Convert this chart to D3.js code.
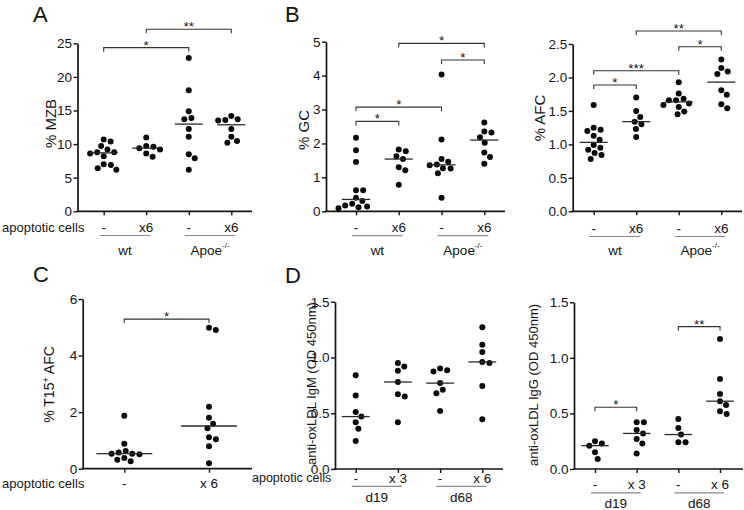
<!DOCTYPE html>
<html><head><meta charset="utf-8">
<script src="https://cdn.jsdelivr.net/npm/d3@7"></script>
<style>
html,body{margin:0;padding:0;background:#fff;}
text{font-family:"Liberation Sans",Arial,Helvetica,sans-serif;fill:#141414;}
</style></head>
<body>
<svg id="fig" width="744" height="510"></svg>
<script>
// ---------- DATA ----------
// Panel A: % MZB
const mzbWtCtrl   = [10.7, 10.4, 9.7, 9.2, 8.8, 8.8, 8.6, 8.2, 7.0, 6.9, 6.4, 6.2];
const mzbWtApo    = [11.0, 9.7, 9.6, 9.4, 9.2, 8.6, 8.1];
const mzbApoeCtrl = [22.8, 18.0, 14.9, 13.9, 13.7, 12.25, 11.1, 8.5, 7.9, 6.2];
const mzbApoeApo  = [14.2, 13.7, 13.6, 13.5, 12.25, 11.1, 10.45, 10.2];
// Panel B: % GC
const gcWtCtrl   = [2.17, 1.80, 1.45, 0.62, 0.62, 0.40, 0.30, 0.22, 0.17, 0.14, 0.12, 0.09];
const gcWtApo    = [1.82, 1.77, 1.62, 1.54, 1.30, 1.21, 0.78];
const gcApoeCtrl = [4.03, 2.12, 1.54, 1.46, 1.38, 1.36, 1.27, 1.26, 1.12, 0.40];
const gcApoeApo  = [2.62, 2.35, 2.32, 2.18, 2.02, 1.73, 1.60, 1.40];
// Panel B (right): % AFC
const afcWtCtrl   = [1.59, 1.25, 1.22, 1.20, 1.13, 1.07, 0.99, 0.95, 0.92, 0.87, 0.84, 0.78];
const afcWtApo    = [1.70, 1.50, 1.41, 1.34, 1.30, 1.23, 1.11];
const afcApoeCtrl = [1.93, 1.76, 1.68, 1.66, 1.66, 1.61, 1.59, 1.56, 1.49, 1.45];
const afcApoeApo  = [2.27, 2.14, 2.09, 2.05, 1.81, 1.74, 1.60, 1.54];
// Panel C: % T15+ AFC
const t15Ctrl = [1.87, 0.88, 0.63, 0.57, 0.53, 0.53, 0.51, 0.38, 0.32, 0.26];
const t15Apo  = [4.98, 4.90, 2.19, 1.80, 1.59, 1.43, 1.11, 1.04, 0.79, 0.19];
// Panel D: anti-oxLDL IgM
const igmD19Ctrl = [0.84, 0.66, 0.51, 0.47, 0.42, 0.36, 0.25];
const igmD19Apo  = [0.95, 0.92, 0.88, 0.78, 0.67, 0.65, 0.42];
const igmD68Ctrl = [0.90, 0.885, 0.875, 0.77, 0.71, 0.68, 0.52];
const igmD68Apo  = [1.27, 1.115, 1.05, 0.96, 0.95, 0.745, 0.445];
// Panel D: anti-oxLDL IgG
const iggD19Ctrl = [0.25, 0.23, 0.21, 0.15, 0.09];
const iggD19Apo  = [0.42, 0.42, 0.35, 0.32, 0.27, 0.23, 0.14];
const iggD68Ctrl = [0.45, 0.37, 0.31, 0.24, 0.24];
const iggD68Apo  = [1.17, 0.81, 0.675, 0.61, 0.575, 0.52, 0.495];

// tick labels
const ticksMZB = [0, 5, 10, 15, 20, 25];
const ticksGC  = [0, 1, 2, 3, 4, 5];
const ticksAFC = [0, 0.5, 1.0, 1.5, 2.0, 2.5];
const ticksT15 = [0, 2, 4, 6];
const ticksOD  = [0, 0.5, 1.0, 1.5];

// category labels
const treat4    = ["-", "x6", "-", "x6"];
const treatC    = ["-", "x 6"];
const treatD    = ["-", "x 3", "-", "x 6"];
const strainsAB = ["wt", "Apoe"];
const daysD     = ["d19", "d68"];

// significance: [from, to, label, bracket height in data units]
const sigMZB = [[0, 2, "*", 24.35], [1, 3, "**", 27.08]];
const sigGC  = [[0, 1, "*", 2.65], [0, 2, "*", 3.07], [2, 3, "*", 4.46], [1, 3, "*", 4.95]];
const sigAFC = [[0, 1, "*", 1.887], [0, 2, "***", 2.10], [2, 3, "*", 2.46], [1, 3, "**", 2.694]];
const sigT15 = [[0, 1, "*", 5.29]];
const sigIgG = [[0, 1, "*", 0.555], [2, 3, "**", 1.281]];

// ---------- LAYOUT ----------
const panels = [
  {groups:[mzbWtCtrl, mzbWtApo, mzbApoeCtrl, mzbApoeApo], ticks:ticksMZB, fmt:d3.format("d"), sig:sigMZB,
   ax:77.5, c0:103.7, c1:231.3, xEnd:252, yBot:211.3, yTop:43.3, ylabel:[["% MZB"]], ylfs:15, ylx:55.5, yly:123.5,
   treat:treat4, treatY:227, apopX:2, apopFs:13, under:strainsAB, lineY:235.5, underY:250, letter:"A", lx:33, ly:22},
  {groups:[gcWtCtrl, gcWtApo, gcApoeCtrl, gcApoeApo], ticks:ticksGC, fmt:d3.format("d"), sig:sigGC,
   ax:326, c0:356, c1:484.3, xEnd:505, yBot:211.3, yTop:41.7, ylabel:[["% GC"]], ylfs:15, ylx:308.5, yly:130,
   treat:treat4, treatY:227.5, apopX:null, under:strainsAB, lineY:235.7, underY:250, letter:"B", lx:285, ly:22},
  {groups:[afcWtCtrl, afcWtApo, afcApoeCtrl, afcApoeApo], ticks:ticksAFC, fmt:d3.format(".1f"), sig:sigAFC,
   ax:572.7, c0:593.7, c1:721.3, xEnd:742, yBot:211.3, yTop:44, ylabel:[["% AFC"]], ylfs:15, ylx:544.5, yly:118,
   treat:treat4, treatY:228, apopX:null, under:strainsAB, lineY:236.5, underY:250},
  {groups:[t15Ctrl, t15Apo], ticks:ticksT15, fmt:d3.format("d"), sig:sigT15,
   ax:82.7, c0:124.3, c1:209, xEnd:252, yBot:468.7, yTop:299, ylabel:[["% T15"],["+","sup"],[" AFC"]], ylfs:14, ylx:53.5, yly:384.5,
   treat:treatC, treatY:483.3, apopX:2, apopFs:13, under:null, letter:"C", lx:33, ly:282},
  {groups:[igmD19Ctrl, igmD19Apo, igmD68Ctrl, igmD68Apo], ticks:ticksOD, fmt:d3.format(".1f"), sig:[],
   ax:335, c0:355.7, c1:482.3, xEnd:503, yBot:469, yTop:301.7, ylabel:[["anti-oxLDL IgM (OD 450nm)"]], ylfs:13, ylx:316, yly:383.5,
   treat:treatD, treatY:478, apopX:252, apopFs:12.5, under:daysD, lineY:486.3, underY:497, letter:"D", lx:285, ly:283},
  {groups:[iggD19Ctrl, iggD19Apo, iggD68Ctrl, iggD68Apo], ticks:ticksOD, fmt:d3.format(".1f"), sig:sigIgG,
   ax:574, c0:595, c1:720, xEnd:743, yBot:469, yTop:302.3, ylabel:[["anti-oxLDL IgG (OD 450nm)"]], ylfs:13, ylx:538, yly:385,
   treat:treatD, treatY:484, apopX:null, under:daysD, lineY:492.8, underY:502.8}
];

const svg = d3.select("#fig");
const R = 3.0, MIN_D = 7.2;

function swarm(vals, y) {
  const pts = vals.map(v => ({v, y: y(v), dx: 0})).sort((a, b) => a.y - b.y);
  const placed = [];
  for (const p of pts) {
    const blocks = [];
    for (const q of placed) {
      const dy = Math.abs(q.y - p.y);
      if (dy < MIN_D) { const w = Math.sqrt(MIN_D * MIN_D - dy * dy); blocks.push([q.dx - w, q.dx + w]); }
    }
    const cands = [0];
    blocks.forEach(b => cands.push(b[0], b[1]));
    cands.sort((a, b) => Math.abs(a) - Math.abs(b) || b - a);
    for (const c of cands) {
      if (blocks.every(b => c <= b[0] + 1e-6 || c >= b[1] - 1e-6)) { p.dx = c; break; }
    }
    placed.push(p);
  }
  return pts;
}

panels.forEach(P => {
  const g = svg.append("g");
  const n = P.groups.length;
  const cats = d3.range(n);
  const x = d3.scalePoint().domain(cats).range([P.c0, P.c1]);
  const step = (P.c1 - P.c0) / (n - 1);
  const ymax = P.ticks[P.ticks.length - 1];
  const y = d3.scaleLinear().domain([0, ymax]).range([P.yBot, P.yTop]);

  // y axis
  const ya = g.append("g").attr("transform", `translate(${P.ax},0)`)
    .call(d3.axisLeft(y).tickValues(P.ticks).tickFormat(P.fmt).tickSize(4).tickSizeOuter(0).tickPadding(1.5));
  ya.select(".domain").attr("stroke", "#141414").attr("stroke-width", 1.7);
  ya.selectAll(".tick line").attr("stroke", "#141414").attr("stroke-width", 1.4);
  ya.selectAll(".tick text").attr("font-size", 13.5).attr("fill", "#141414");

  // x axis
  const xa = g.append("g").attr("transform", `translate(0,${P.yBot})`)
    .call(d3.axisBottom(x).tickSize(4).tickSizeOuter(0).tickFormat(""));
  xa.select(".domain").remove();
  xa.selectAll(".tick line").attr("stroke", "#141414").attr("stroke-width", 1.4);
  g.append("line").attr("x1", P.ax - 0.85).attr("x2", P.xEnd).attr("y1", P.yBot).attr("y2", P.yBot)
    .attr("stroke", "#141414").attr("stroke-width", 1.7);

  // y label
  const yl = g.append("text").attr("transform", `translate(${P.ylx},${P.yly}) rotate(-90)`)
    .attr("text-anchor", "middle").attr("font-size", P.ylfs);
  P.ylabel.forEach(part => {
    const t = yl.append("tspan").text(part[0]);
    if (part[1] === "sup") t.attr("font-size", 9).attr("baseline-shift", "super");
  });

  // dots and medians
  P.groups.forEach((vals, i) => {
    const pts = swarm(vals, y);
    g.append("g").selectAll("circle").data(pts).join("circle")
      .attr("cx", d => x(i) + d.dx).attr("cy", d => d.y).attr("r", R).attr("fill", "#0a0a0a");
    const med = d3.median(vals);
    g.append("line").attr("x1", x(i) - step * 0.33).attr("x2", x(i) + step * 0.33)
      .attr("y1", y(med)).attr("y2", y(med)).attr("stroke", "#2a2a2a").attr("stroke-width", 1.3);
  });

  // significance brackets
  P.sig.forEach(s => {
    const yb = y(s[3]), xa1 = x(s[0]), xb1 = x(s[1]);
    g.append("path").attr("d", `M${xa1},${yb + 4}V${yb}H${xb1}V${yb + 4}`)
      .attr("fill", "none").attr("stroke", "#333").attr("stroke-width", 1.1);
    g.append("text").attr("x", (xa1 + xb1) / 2).attr("y", yb + 2).attr("text-anchor", "middle")
      .attr("font-size", 13.5).text(s[2]);
  });

  // treatment labels
  cats.forEach(i => {
    g.append("text").attr("x", x(i)).attr("y", P.treatY).attr("dominant-baseline", "central")
      .attr("text-anchor", "middle").attr("font-size", 13.5).text(P.treat[i]);
  });
  if (P.apopX !== null) {
    g.append("text").attr("x", P.apopX).attr("y", P.treatY).attr("dominant-baseline", "central")
      .attr("font-size", P.apopFs).text("apoptotic cells");
  }
  if (P.under) {
    P.under.forEach((lab, k) => {
      const xa1 = x(2 * k) - 4, xb1 = x(2 * k + 1) + 4;
      g.append("line").attr("x1", xa1).attr("x2", xb1).attr("y1", P.lineY).attr("y2", P.lineY)
        .attr("stroke", "#8a8a8a").attr("stroke-width", 1.2);
      const t = g.append("text").attr("x", (x(2 * k) + x(2 * k + 1)) / 2).attr("y", P.underY)
        .attr("dominant-baseline", "central").attr("text-anchor", "middle").attr("font-size", 13.5);
      t.append("tspan").text(lab);
      if (lab === "Apoe") t.append("tspan").attr("font-size", 8).attr("dy", -5).text("-/-");
    });
  }
  if (P.letter) {
    g.append("text").attr("x", P.lx).attr("y", P.ly).attr("font-size", 22).text(P.letter);
  }
});
</script>
</body></html>
